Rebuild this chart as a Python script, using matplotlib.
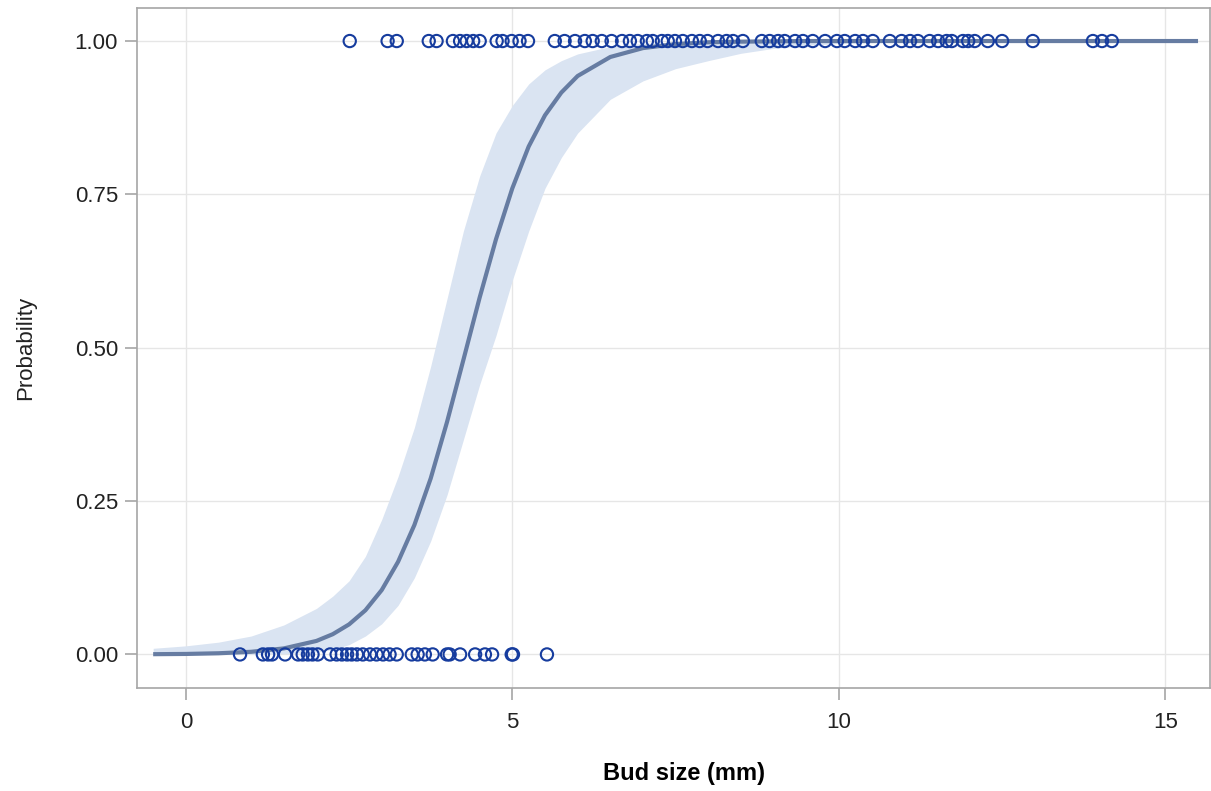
import numpy as np
import matplotlib
matplotlib.use('agg')
import matplotlib.pyplot as plt

plt.rcParams['font.family'] = ['Liberation Sans', 'DejaVu Sans']

bud_yes = [2.51, 3.09, 3.23, 3.72, 3.84, 4.09, 4.20, 4.30, 4.40, 4.50, 4.76, 4.85,
           4.99, 5.11, 5.24, 5.65, 5.80, 5.96, 6.11, 6.23, 6.37, 6.52, 6.68, 6.80,
           6.92, 7.06, 7.15, 7.29, 7.38, 7.49, 7.61, 7.75, 7.87, 7.99, 8.15, 8.28,
           8.38, 8.53, 8.82, 8.94, 9.07, 9.17, 9.33, 9.45, 9.60, 9.79, 9.97, 10.09,
           10.25, 10.37, 10.52, 10.78, 10.96, 11.09, 11.21, 11.39, 11.52, 11.65,
           11.73, 11.90, 11.98, 12.08, 12.28, 12.50, 12.97, 13.89, 14.03, 14.18]
bud_no = [0.83, 1.18, 1.26, 1.32, 1.52, 1.72, 1.79, 1.87, 1.94, 2.02, 2.21, 2.31,
          2.39, 2.47, 2.54, 2.62, 2.71, 2.82, 2.92, 3.02, 3.12, 3.23, 3.46, 3.55,
          3.66, 3.78, 4.00, 4.04, 4.20, 4.43, 4.58, 4.69, 4.99, 5.01, 5.53]

# Fitted curve and confidence band, read at these sizes
fit_x = [-0.5, 0, 0.5, 1, 1.5, 2, 2.25, 2.5, 2.75, 3, 3.25, 3.5, 3.75, 4,
         4.25, 4.5, 4.75, 5, 5.25, 5.5, 5.75, 6, 6.5, 7, 7.5, 8, 8.5, 9, 9.5,
         10, 11, 12, 15.5]
fit_p = [0.0004, 0.0008, 0.0019, 0.0043, 0.0098, 0.022, 0.033, 0.049, 0.072,
         0.105, 0.151, 0.211, 0.287, 0.379, 0.48, 0.582, 0.677, 0.76, 0.828,
         0.879, 0.916, 0.943, 0.974, 0.9885, 0.995, 0.998, 0.999, 0.9995, 1,
         1, 1, 1, 1]
fit_hi = [0.010, 0.014, 0.02, 0.03, 0.048, 0.075, 0.095, 0.12, 0.16, 0.22,
          0.29, 0.37, 0.47, 0.58, 0.69, 0.78, 0.85, 0.895, 0.93, 0.953, 0.968,
          0.979, 0.991, 0.996, 0.998, 0.999, 1, 1, 1, 1, 1, 1, 1]
fit_lo = [0.0, 0.0, 0.0001, 0.0004, 0.0012, 0.004, 0.008, 0.016, 0.03, 0.05,
          0.08, 0.125, 0.185, 0.26, 0.35, 0.44, 0.52, 0.61, 0.69, 0.76, 0.81,
          0.85, 0.905, 0.935, 0.955, 0.968, 0.98, 0.988, 0.993, 0.996, 0.999,
          1, 1]

fig = plt.figure(figsize=(12.11, 7.91), dpi=100)
ax = fig.add_axes([0.113, 0.130, 0.886, 0.860])

ax.fill_between(fit_x, fit_lo, fit_hi, color='#dae4f2', lw=0, zorder=1)
ax.plot(fit_x, fit_p, color='#667ca2', lw=3, zorder=2, solid_capstyle='butt')
ax.scatter(bud_yes, np.ones(len(bud_yes)), s=78, facecolors='none',
           edgecolors='#163c9e', linewidths=1.5, zorder=3)
ax.scatter(bud_no, np.zeros(len(bud_no)), s=78, facecolors='none',
           edgecolors='#163c9e', linewidths=1.5, zorder=3)

ax.set_xlim(-0.75, 15.68)
ax.set_ylim(-0.055, 1.054)
ax.set_xticks([0, 5, 10, 15])
ax.set_yticks([0, 0.25, 0.5, 0.75, 1.0])
ax.set_yticklabels(['0.00', '0.25', '0.50', '0.75', '1.00'])
ax.grid(True, color='#e6e6e6', lw=1, zorder=0)
ax.set_axisbelow(True)
for s in ax.spines.values():
    s.set_color('#a6a6a6')
    s.set_linewidth(1.2)
ax.tick_params(direction='out', length=8.5, width=1.2, color='#a6a6a6',
               labelsize=16, labelcolor='#222222')
ax.tick_params(axis='y', pad=5)
ax.tick_params(axis='x', pad=9)

ax.set_xlabel('Bud size (mm)', fontsize=17, fontweight='bold')
ax.xaxis.set_label_coords(0.51, -0.109)
ax.set_ylabel('Probability', fontsize=16, color='#222222')
ax.yaxis.set_label_coords(-0.094, 0.5)

fig.savefig('out.png', dpi=100)
